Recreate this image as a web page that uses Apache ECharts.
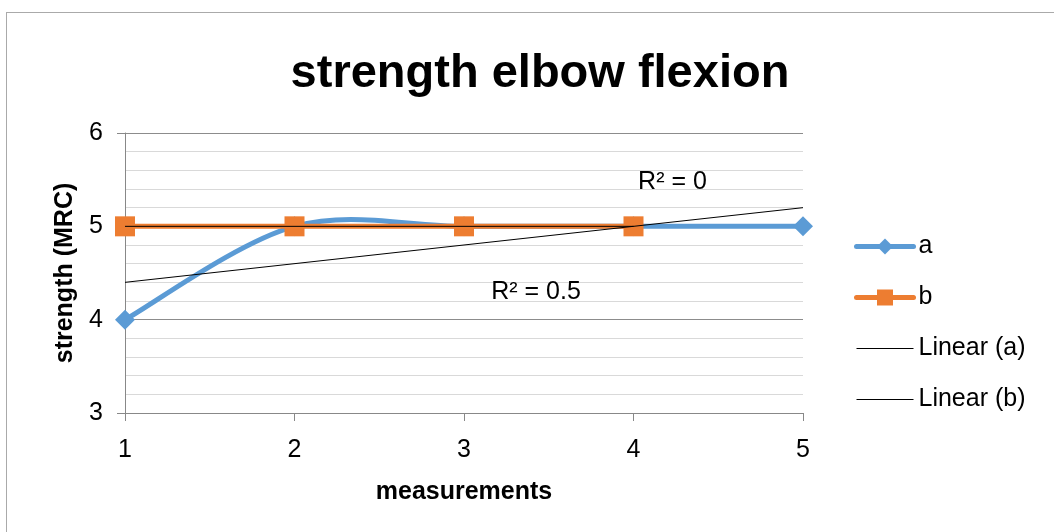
<!DOCTYPE html>
<html>
<head>
<meta charset="utf-8">
<script src="https://cdn.jsdelivr.net/npm/echarts@6/dist/echarts.min.js"></script>
<style>
html,body{margin:0;padding:0;background:#fff;}
#frame{position:absolute;left:6px;top:12px;width:1100px;height:600px;border-left:1px solid #aaa;border-top:1px solid #aaa;}
#chart{position:absolute;left:0;top:0;width:1054px;height:532px;}
</style>
</head>
<body>
<div id="frame"></div>
<div id="chart"></div>
<script>
// Data
const measurements = [1, 2, 3, 4, 5];
const seriesA = [4, 5, 5, 5, 5];
const seriesB = [5, 5, 5, 5];
const linearA = [[1, 4.4], [5, 5.2]];
const linearB = [[1, 5], [4, 5]];
const yTicks = [3, 4, 5, 6];
const r2Labels = [
  { text: 'R² = 0', coord: [4.23, 5.47] },
  { text: 'R² = 0.5', coord: [3.425, 4.3] }
];

const font = 'Liberation Sans, Arial, sans-serif';
const blue = '#5B9BD5', orange = '#ED7D31';
const chart = echarts.init(document.getElementById('chart'), null, { renderer: 'canvas' });

// Excel-like smoothed curve (Catmull-Rom style Bezier) through points in pixel space
function smoothPath(pts) {
  let d = 'M' + pts[0][0] + ',' + pts[0][1];
  for (let i = 0; i < pts.length - 1; i++) {
    const p0 = pts[Math.max(i - 1, 0)], p1 = pts[i], p2 = pts[i + 1], p3 = pts[Math.min(i + 2, pts.length - 1)];
    const c1 = [p1[0] + (p2[0] - p0[0]) / 6, p1[1] + (p2[1] - p0[1]) / 6];
    const c2 = [p2[0] - (p3[0] - p1[0]) / 6, p2[1] - (p3[1] - p1[1]) / 6];
    d += 'C' + c1[0] + ',' + c1[1] + ' ' + c2[0] + ',' + c2[1] + ' ' + p2[0] + ',' + p2[1];
  }
  return d;
}

const labelStyle = { fontFamily: font, fontSize: 25, color: '#000' };

const option = {
  backgroundColor: 'transparent',
  animation: false,
  title: {
    text: 'strength elbow flexion',
    left: 535, top: 46, textAlign: 'center',
    textStyle: { fontFamily: font, fontWeight: 'bold', fontSize: 47, color: '#000' }
  },
  legend: {
    orient: 'vertical',
    left: 849, top: 229,
    itemWidth: 57, itemHeight: 20, itemGap: 26,
    textStyle: { fontFamily: font, fontSize: 25, color: '#000' },
    data: [
      { name: 'a', lineStyle: { color: blue, width: 5, opacity: 1, cap: 'round' } },
      { name: 'b', lineStyle: { color: orange, width: 5, opacity: 1, cap: 'round' } },
      { name: 'Linear (a)', itemStyle: { opacity: 0 }, lineStyle: { color: '#000', width: 1 } },
      { name: 'Linear (b)', itemStyle: { opacity: 0 }, lineStyle: { color: '#000', width: 1 } }
    ]
  },
  grid: { left: 125, right: 251, top: 133, bottom: 119 },
  xAxis: [{
    type: 'value', min: 1, max: 5, interval: 1,
    name: 'measurements', nameLocation: 'middle', nameGap: 67,
    nameTextStyle: { fontFamily: font, fontWeight: 'bold', fontSize: 25, color: '#000' },
    axisLine: { show: true, lineStyle: { color: '#888', width: 1 } },
    axisTick: { show: true, length: 8, lineStyle: { color: '#888' } },
    axisLabel: { fontFamily: font, fontSize: 25, color: '#000', margin: 25,
      formatter: v => measurements.includes(v) ? String(v) : '' },
    splitLine: { show: false }
  }],
  yAxis: [{
    type: 'value', min: 3, max: 6, interval: 1,
    name: 'strength (MRC)', nameLocation: 'middle', nameGap: 47,
    nameTextStyle: { fontFamily: font, fontWeight: 'bold', fontSize: 25, color: '#000' },
    axisLine: { show: true, lineStyle: { color: '#888', width: 1 } },
    axisTick: { show: true, length: 8, lineStyle: { color: '#888' } },
    axisLabel: { fontFamily: font, fontSize: 25, color: '#000', margin: 22,
      formatter: v => yTicks.includes(v) ? String(v) : '' },
    splitLine: { show: true, lineStyle: { color: '#8c8c8c', width: 1 } },
    minorTick: { show: false, splitNumber: 5 },
    minorSplitLine: { show: true, lineStyle: { color: '#d9d9d9', width: 1 } }
  }],
  series: [
    {
      name: 'a-curve', type: 'custom', coordinateSystem: 'cartesian2d',
      data: [[measurements[0], seriesA[0]]], z: 2, silent: true,
      renderItem: function (params, api) {
        const pts = measurements.map((x, i) => api.coord([x, seriesA[i]]));
        return {
          type: 'path',
          shape: { pathData: smoothPath(pts) },
          style: { fill: 'none', stroke: blue, lineWidth: 5, lineJoin: 'round' }
        };
      }
    },
    {
      name: 'a', type: 'line',
      data: measurements.map((x, i) => [x, seriesA[i]]),
      symbol: 'diamond', symbolSize: 20,
      lineStyle: { color: blue, width: 0, opacity: 0 }, itemStyle: { color: blue }, z: 3
    },
    {
      name: 'b', type: 'line',
      data: seriesB.map((y, i) => [measurements[i], y]),
      symbol: 'rect', symbolSize: 20,
      lineStyle: { color: orange, width: 5 }, itemStyle: { color: orange }, z: 4
    },
    {
      name: 'Linear (a)', type: 'line', data: linearA, symbol: 'none',
      lineStyle: { color: '#000', width: 1 }, itemStyle: { color: '#000' }, z: 5,
      markPoint: {
        symbol: 'rect', symbolSize: 1, itemStyle: { color: 'transparent' },
        label: Object.assign({ show: true, position: 'inside', formatter: p => p.name }, labelStyle),
        data: [{ name: r2Labels[1].text, coord: r2Labels[1].coord }]
      }
    },
    {
      name: 'Linear (b)', type: 'line', data: linearB, symbol: 'none',
      lineStyle: { color: '#000', width: 1 }, itemStyle: { color: '#000' }, z: 6,
      markPoint: {
        symbol: 'rect', symbolSize: 1, itemStyle: { color: 'transparent' },
        label: Object.assign({ show: true, position: 'inside', formatter: p => p.name }, labelStyle),
        data: [{ name: r2Labels[0].text, coord: r2Labels[0].coord }]
      }
    }
  ]
};
chart.setOption(option);
</script>
</body>
</html>
